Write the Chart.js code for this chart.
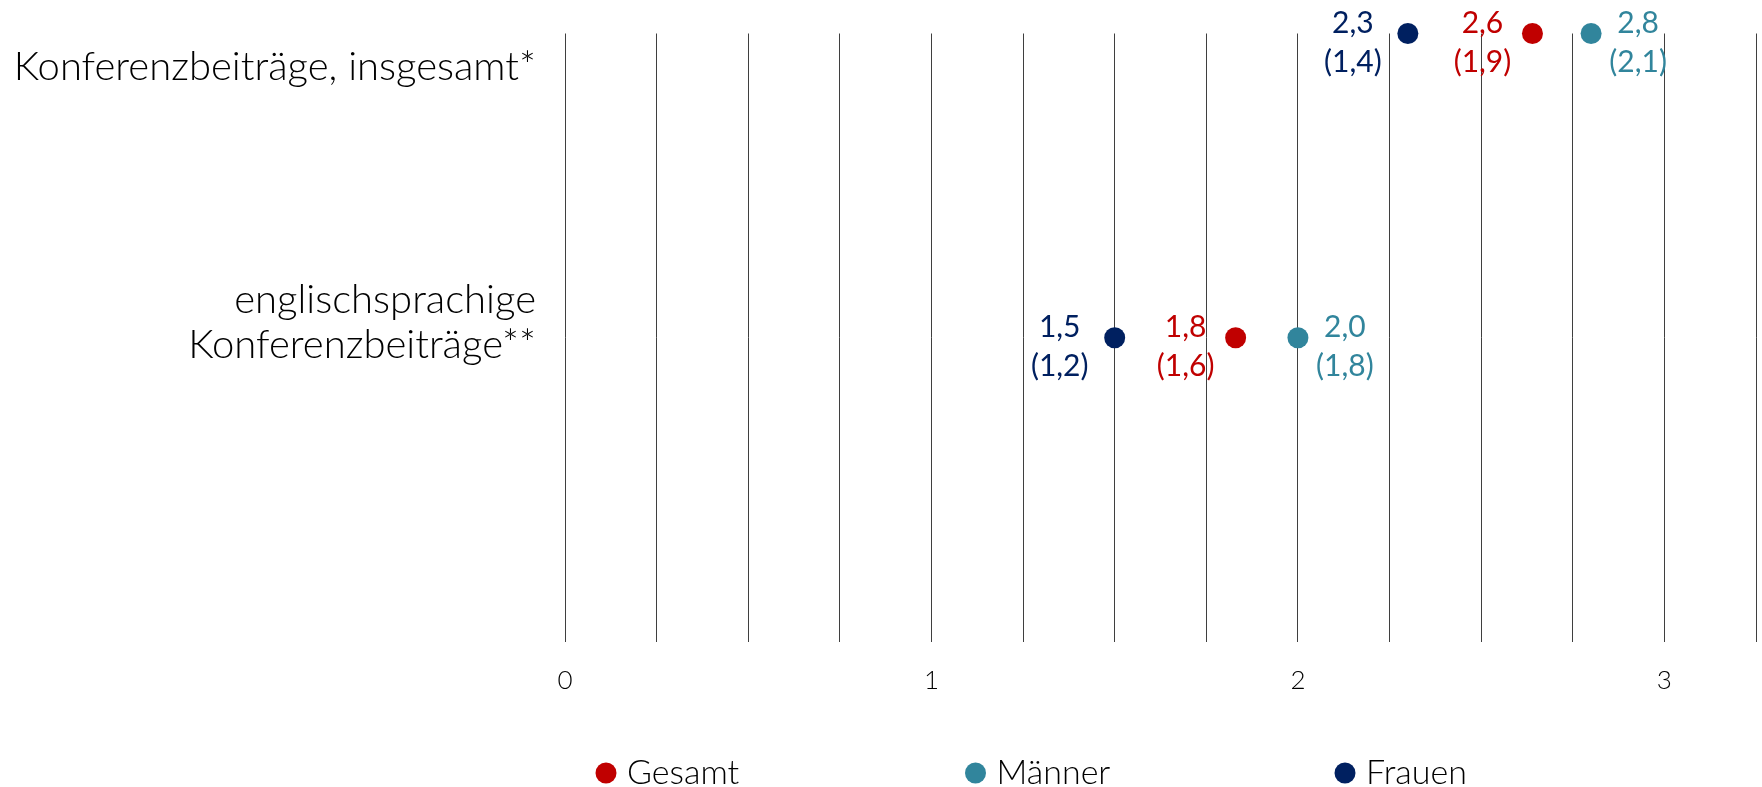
<!DOCTYPE html>
<html>
<head>
<meta charset="utf-8">
<script src="https://cdn.jsdelivr.net/npm/chart.js@4.4.0/dist/chart.umd.min.js"></script>
<style>
  html, body { margin: 0; padding: 0; background: #ffffff; }
  canvas { display: block; }
</style>
</head>
<body>
<canvas id="chart" width="1762" height="787"></canvas>
<script>
// Rows (top to bottom) and their position on the vertical value axis
const categories = [
  ['Konferenzbeiträge, insgesamt*'],
  ['englischsprachige', 'Konferenzbeiträge**']
];
const rowValues = [2, 1];

// Series
const seriesNames = ['Gesamt', 'Männer', 'Frauen'];
const gesamtValues = [2.64, 1.83];
const maennerValues = [2.80, 2.00];
const frauenValues = [2.30, 1.50];

// Values shown in brackets below each point value
const gesamtInParens = [1.9, 1.6];
const maennerInParens = [2.1, 1.8];
const frauenInParens = [1.4, 1.2];

// Axis tick labels
const xTickLabels = ['0', '1', '2', '3'];

const seriesValues = [gesamtValues, maennerValues, frauenValues];
const seriesParens = [gesamtInParens, maennerInParens, frauenInParens];
const seriesColors = ['#C00000', '#31859C', '#002060'];
const labelShift = [-50, 47, -55];       // horizontal offset of the value label from its dot

const FONT = 'Lato, "Open Sans", sans-serif';
const fmt = v => v.toFixed(1).replace('.', ',');

const overlay = {
  id: 'overlay',
  afterDatasetsDraw(chart) {
    const ctx = chart.ctx;
    const yScale = chart.scales.y;
    ctx.save();

    // value labels next to each dot
    ctx.textAlign = 'center';
    ctx.textBaseline = 'middle';
    ctx.font = '400 30px ' + FONT;
    chart.data.datasets.forEach((ds, s) => {
      const meta = chart.getDatasetMeta(s);
      meta.data.forEach((pt, i) => {
        const cx = pt.x + labelShift[s];
        ctx.fillStyle = seriesColors[s];
        ctx.fillText(fmt(seriesValues[s][i]), cx, pt.y - 10);
        ctx.fillText('(' + fmt(seriesParens[s][i]) + ')', cx, pt.y + 29);
      });
    });

    // row labels on the left
    ctx.fillStyle = '#000000';
    ctx.textAlign = 'right';
    ctx.font = '300 40px ' + FONT;
    const nudge = [33.5, -15];
    const lineH = 45;
    categories.forEach((lines, i) => {
      const mid = yScale.getPixelForValue(rowValues[i]) + nudge[i];
      lines.forEach((t, k) => {
        ctx.fillText(t, 536, mid + (k - (lines.length - 1) / 2) * lineH);
      });
    });

    // legend
    ctx.textAlign = 'left';
    ctx.font = '300 34px ' + FONT;
    chart.data.datasets.forEach((ds, s) => {
      const x = 606 + s * 369.5;
      const y = 773;
      ctx.fillStyle = ds.backgroundColor;
      ctx.beginPath();
      ctx.arc(x, y, 10.5, 0, Math.PI * 2);
      ctx.fill();
      ctx.fillStyle = '#000000';
      ctx.fillText(ds.label, x + 21, y);
    });

    ctx.restore();
  }
};

new Chart(document.getElementById('chart'), {
  type: 'scatter',
  data: {
    datasets: seriesNames.map((name, s) => ({
      label: name,
      data: seriesValues[s].map((v, i) => ({ x: v, y: rowValues[i] })),
      backgroundColor: seriesColors[s],
      borderWidth: 0,
      pointRadius: 10.5,
      pointHoverRadius: 10.5,
      clip: false
    }))
  },
  options: {
    responsive: false,
    animation: false,
    devicePixelRatio: 1,
    layout: { autoPadding: false, padding: { top: 33.5, left: 565, right: 6, bottom: 0 } },
    scales: {
      x: {
        type: 'linear',
        min: 0,
        max: 3.25,
        border: { display: false },
        grid: { color: '#3f3f3f', lineWidth: 1, drawTicks: false },
        ticks: {
          stepSize: 0.25,
          autoSkip: false,
          maxRotation: 0,
          padding: 23,
          color: '#000000',
          font: { family: FONT, weight: '300', size: 26 },
          callback: v => Number.isInteger(v) ? xTickLabels[v] : ''
        },
        afterFit: scale => {
          scale.height = 145;
          scale.paddingLeft = 0;
          scale.paddingRight = 0;
        }
      },
      y: {
        type: 'linear',
        min: 0,
        max: 2,
        display: false
      }
    },
    plugins: {
      legend: { display: false },
      tooltip: { enabled: false }
    }
  },
  plugins: [overlay]
});
</script>
</body>
</html>
